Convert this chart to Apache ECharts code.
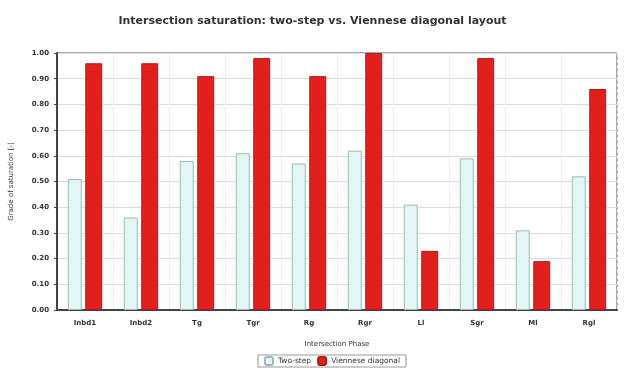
<!DOCTYPE html>
<html style="height: 100%">
<head>
    <meta charset="utf-8">
    <script src="https://cdn.jsdelivr.net/npm/echarts@6/dist/echarts.min.js"></script>
</head>
<body style="height: 100%; margin: 0; background: #fff">
    <div id="main" style="width: 625px; height: 371px"></div>
    <script type="text/javascript">
        // categories and values
        var phases = ['Inbd1', 'Inbd2', 'Tg', 'Tgr', 'Rg', 'Rgr', 'Ll', 'Sgr', 'Ml', 'Rgl'];
        var twoStep = [0.51, 0.36, 0.58, 0.61, 0.57, 0.62, 0.41, 0.59, 0.31, 0.52];
        var viennese = [0.96, 0.96, 0.91, 0.98, 0.91, 1.00, 0.23, 0.98, 0.19, 0.86];

        var font = 'DejaVu Sans';
        var myChart = echarts.init(document.getElementById('main'));

        var option = {
            animation: false,
            textStyle: { fontFamily: font },
            title: {
                text: 'Intersection saturation: two-step vs. Viennese diagonal layout',
                left: 'center',
                top: 11,
                textStyle: { fontSize: 11, fontWeight: 'bold', color: '#333', fontFamily: font }
            },
            legend: {
                bottom: 4,
                left: 258,
                itemWidth: 8,
                itemHeight: 8,
                itemGap: 6,
                padding: [1, 6],
                borderColor: '#999',
                borderWidth: 1,
                textStyle: { fontSize: 7.5, color: '#333', fontFamily: font },
                data: ['Two-step', 'Viennese diagonal']
            },
            grid: { left: 57, right: 8, top: 53, bottom: 61, show: true, borderColor: '#555', borderWidth: 1 },
            xAxis: {
                type: 'category',
                data: phases,
                name: 'Intersection Phase',
                nameLocation: 'middle',
                nameGap: 31,
                nameTextStyle: { fontSize: 7, color: '#333', fontFamily: font },
                axisLine: { lineStyle: { color: '#444', width: 2 } },
                axisTick: { show: false },
                axisLabel: { fontSize: 7, color: '#333', fontWeight: 'bold', margin: 10, fontFamily: font },
                splitLine: { show: true, lineStyle: { color: '#e6e6e6', type: 'dashed' } }
            },
            yAxis: {
                type: 'value',
                min: 0,
                max: 1,
                interval: 0.1,
                name: 'Grade of saturation [-]',
                nameLocation: 'middle',
                nameGap: 42,
                nameTextStyle: { fontSize: 7, color: '#333', fontFamily: font },
                axisLine: { show: true, lineStyle: { color: '#444', width: 2 } },
                axisTick: { show: true, length: 3, lineStyle: { color: '#444' } },
                axisLabel: { fontSize: 7, color: '#333', fontWeight: 'bold', fontFamily: font,
                    formatter: function (v) { return v.toFixed(2); } },
                splitLine: { lineStyle: { color: '#dcdcdc' } }
            },
            series: [
                {
                    name: 'Two-step',
                    type: 'bar',
                    data: twoStep,
                    barWidth: 14,
                    barGap: '25%',
                    itemStyle: { color: '#e3f6f6', borderColor: '#9fb8b8', borderWidth: 1 }
                },
                {
                    name: 'Viennese diagonal',
                    type: 'bar',
                    data: viennese,
                    barWidth: 17,
                    itemStyle: { color: '#e0201c', borderColor: '#b01818', borderWidth: 1 }
                }
            ]
        };

        myChart.setOption(option);
    </script>
</body>
</html>
